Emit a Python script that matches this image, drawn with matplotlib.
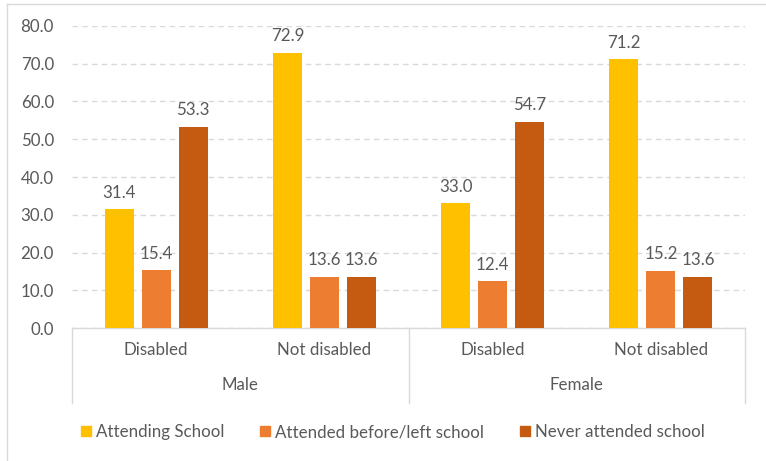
import numpy as np
import matplotlib.pyplot as plt
import matplotlib.transforms as mtransforms
from matplotlib.patches import Patch

plt.rcParams['font.family'] = ['Lato', 'DejaVu Sans']

# data
groups = ["Male", "Female"]
subcats = ["Disabled", "Not disabled", "Disabled", "Not disabled"]
series_names = ["Attending School", "Attended before/left school", "Never attended school"]
attending = [31.4, 72.9, 33.0, 71.2]
attended_before = [15.4, 13.6, 12.4, 15.2]
never_attended = [53.3, 13.6, 54.7, 13.6]
colors = ["#FFC000", "#ED7D31", "#C55A11"]

text_color = "#595959"
grid_color = "#D9D9D9"
fs = 12.2

fig = plt.figure(figsize=(7.66, 4.61), dpi=100)
ax = fig.add_axes([72 / 766, 133 / 461, 673 / 766, 302 / 461])

x = np.arange(len(subcats))
width = 0.173
step = 0.22
for k, vals in enumerate([attending, attended_before, never_attended]):
    pos = x + (k - 1) * step
    ax.bar(pos, vals, width, color=colors[k], zorder=3)
    for xi, v in zip(pos, vals):
        ax.annotate(f"{v:.1f}", (xi, v), xytext=(0, 6), textcoords="offset points",
                    ha="center", va="bottom", fontsize=fs, color=text_color)

ax.set_xlim(-0.5, 3.5)
ax.set_ylim(0, 80)
ax.set_yticks(np.arange(0, 81, 10))
ax.set_yticklabels([f"{v:.1f}" for v in np.arange(0, 81, 10)])
ax.tick_params(axis="y", length=0, pad=13, labelsize=fs, labelcolor=text_color)
ax.yaxis.grid(True, color=grid_color, linestyle=(0, (4, 3)), linewidth=1, zorder=0)

for s in ["top", "right", "left"]:
    ax.spines[s].set_visible(False)
ax.spines["bottom"].set_color(grid_color)
ax.spines["bottom"].set_linewidth(1)

# multi-level category axis
ax.set_xticks(x)
ax.set_xticklabels(subcats)
ax.tick_params(axis="x", length=0, pad=10, labelsize=fs, labelcolor=text_color)

trans = mtransforms.blended_transform_factory(ax.transData, ax.transAxes)
for xs in [-0.5, 1.5, 3.5]:
    ax.plot([xs, xs], [0, -0.248], transform=trans, color=grid_color, lw=1, clip_on=False)
for g, name in enumerate(groups):
    ax.text(2 * g + 0.5, -0.19, name, transform=trans, ha="center", va="center",
            fontsize=fs, color=text_color)

# chart border (top and left edges visible)
fig.add_artist(plt.Line2D([7 / 766, 1], [1 - 4 / 461, 1 - 4 / 461], color=grid_color, lw=1))
fig.add_artist(plt.Line2D([7 / 766, 7 / 766], [0, 1 - 4 / 461], color=grid_color, lw=1))

handles = [Patch(color=c) for c in colors]
fig.legend(handles, series_names, loc="center", bbox_to_anchor=(393 / 766, 1 - 432 / 461),
           ncol=3, frameon=False, fontsize=fs, labelcolor=text_color,
           handlelength=0.6, handleheight=0.6, handletextpad=0.3, columnspacing=2.1)

fig.savefig("out.png", dpi=100)
